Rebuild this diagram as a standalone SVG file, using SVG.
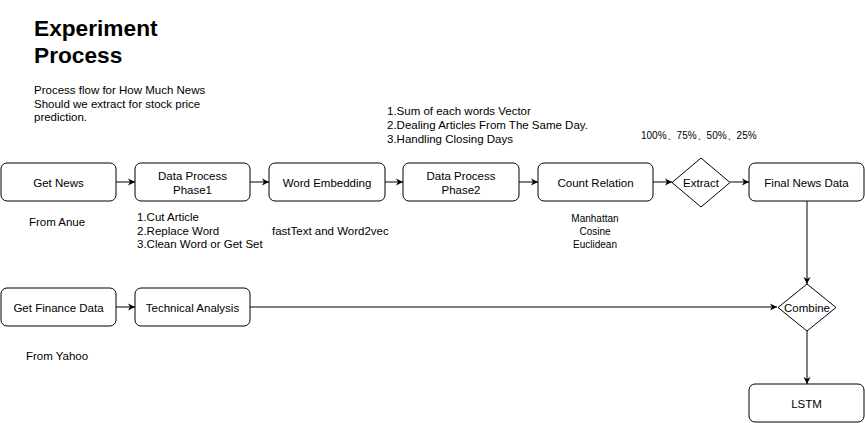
<svg xmlns="http://www.w3.org/2000/svg" width="865" height="423" viewBox="0 0 865 423">
<style>
.n{fill:#fff;stroke:#000;stroke-width:1}
.t{font-family:"Liberation Sans",Arial,sans-serif;font-size:11.5px;fill:#000}
.c{text-anchor:middle}
.s{font-family:"Liberation Sans",Arial,sans-serif;font-size:10px;fill:#000}
.e{stroke:#000;stroke-width:1;fill:none;marker-end:url(#a)}
.h{font-family:"Liberation Sans",Arial,sans-serif;font-size:22.7px;font-weight:bold;fill:#000}
</style>
<defs>
<marker id="a" markerWidth="8" markerHeight="8" refX="7" refY="4" orient="auto" markerUnits="userSpaceOnUse">
<path d="M0,0.5 L7,4 L0,7.5 L2,4 Z" fill="#000"/>
</marker>
</defs>
<rect width="865" height="423" fill="#fff"/>
<g id="title">
<text class="h" x="34" y="36">Experiment</text>
<text class="h" x="34" y="63">Process</text>
<text class="t" x="34" y="94">Process flow for How Much News</text>
<text class="t" x="34" y="107.5">Should we extract for stock price</text>
<text class="t" x="34" y="121">prediction.</text>
</g>
<g id="edges">
<line class="e" x1="116" y1="182" x2="135" y2="182"/>
<line class="e" x1="250" y1="182" x2="269" y2="182"/>
<line class="e" x1="385" y1="182" x2="403" y2="182"/>
<line class="e" x1="519" y1="182" x2="538" y2="182"/>
<line class="e" x1="653" y1="182" x2="672" y2="182"/>
<line class="e" x1="730" y1="182" x2="749" y2="182"/>
<line class="e" x1="116" y1="307" x2="135" y2="307"/>
<line class="e" x1="250" y1="307" x2="777" y2="307"/>
<line class="e" x1="807" y1="201" x2="807" y2="284"/>
<line class="e" x1="807" y1="331" x2="807" y2="384"/>
</g>
<g id="getnews">
<rect class="n" x="1" y="163" width="115" height="38" rx="6"/>
<text class="t c" x="58.5" y="186.5">Get News</text>
<text class="t c" x="57" y="226">From Anue</text>
</g>
<g id="dp1">
<rect class="n" x="135" y="163" width="115" height="38" rx="6"/>
<text class="t c" x="192.5" y="180">Data Process</text>
<text class="t c" x="192.5" y="193.5">Phase1</text>
<text class="t" x="137" y="221">1.Cut Article</text>
<text class="t" x="137" y="234.5">2.Replace Word</text>
<text class="t" x="137" y="248">3.Clean Word or Get Set</text>
</g>
<g id="we">
<rect class="n" x="269" y="163" width="116" height="38" rx="6"/>
<text class="t c" x="327" y="186.5">Word Embedding</text>
<text class="t" x="272" y="234.5">fastText and Word2vec</text>
</g>
<g id="dp2">
<rect class="n" x="403" y="163" width="116" height="38" rx="6"/>
<text class="t c" x="461" y="180">Data Process</text>
<text class="t c" x="461" y="193.5">Phase2</text>
<text class="t" x="387" y="115">1.Sum of each words Vector</text>
<text class="t" x="387" y="129">2.Dealing Articles From The Same Day.</text>
<text class="t" x="387" y="143">3.Handling Closing Days</text>
</g>
<g id="cr">
<rect class="n" x="538" y="163" width="115" height="38" rx="6"/>
<text class="t c" x="595.5" y="186.5">Count Relation</text>
<text class="s c" x="595" y="222">Manhattan</text>
<text class="s c" x="595" y="235">Cosine</text>
<text class="s c" x="595" y="248">Euclidean</text>
</g>
<g id="extract">
<path class="n" d="M701,158 L730,182.5 L701,207 L672,182.5 Z"/>
<text class="t c" x="701" y="186.5">Extract</text>
<text class="s" x="641" y="139" font-family="'Liberation Sans','Noto Sans CJK SC',sans-serif">100%、75%、50%、25%</text>
</g>
<g id="final">
<rect class="n" x="749" y="163" width="115" height="38" rx="6"/>
<text class="t c" x="806.5" y="186.5">Final News Data</text>
</g>
<g id="finance">
<rect class="n" x="1" y="288" width="115" height="38" rx="6"/>
<text class="t c" x="58.5" y="311.5">Get Finance Data</text>
<text class="t c" x="57" y="360">From Yahoo</text>
</g>
<g id="ta">
<rect class="n" x="135" y="288" width="115" height="38" rx="6"/>
<text class="t c" x="192.5" y="311.5">Technical Analysis</text>
</g>
<g id="combine">
<path class="n" d="M807,284 L836,307.5 L807,331 L778,307.5 Z"/>
<text class="t c" x="807" y="311.5">Combine</text>
</g>
<g id="lstm">
<rect class="n" x="749" y="384" width="115" height="38" rx="6"/>
<text class="t c" x="806.5" y="407.5">LSTM</text>
</g>
</svg>
